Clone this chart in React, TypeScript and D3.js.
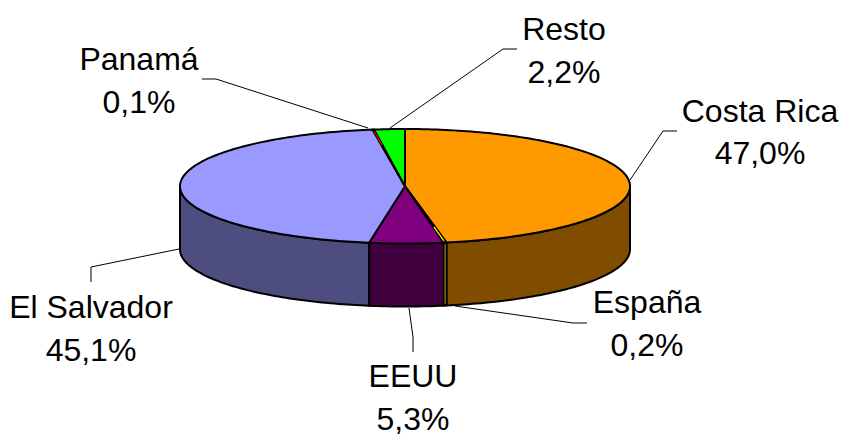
import * as d3 from 'd3'

const labels = ['Costa Rica', 'España', 'EEUU', 'El Salvador', 'Panamá', 'Resto']
const values = [47.0, 0.2, 5.3, 45.1, 0.1, 2.2]
const pctLabels = ['47,0%', '0,2%', '5,3%', '45,1%', '0,1%', '2,2%']
const topColors = ['#ff9900', '#ffff00', '#800080', '#9999ff', '#ff0000', '#00ff00']
const wallColors = ['#804d00', '#808000', '#400040', '#4d4d80', '#800000', '#008000']

// leader lines, in chart pixels
const leaders = [
  [[630, 180], [663, 131], [677, 131]],
  [[455, 306], [573, 323], [587, 323]],
  [[409, 308], [413, 337], [413, 352]],
  [[179, 249], [91, 267], [91, 282]],
  [[368, 128], [216, 79], [202, 79]],
  [[390, 128], [503, 49], [517, 49]],
]
const labelPos = [
  [760, 122, 164],
  [647, 313, 356],
  [413, 387, 430],
  [91, 318, 361],
  [139, 70, 113],
  [564, 40, 83],
]

const width = 841
const height = 437
const x = d3.scaleLinear().domain([-1, 1]).range([180, 630])
const y = d3.scaleLinear().domain([-1, 1]).range([129, 243.5])
const depth = 63
const outline = 2

const pie = d3.pie<number>().sort(null).startAngle(0).endAngle(2 * Math.PI)
const slices = pie(values)

const rimPoint = (a: number, dy = 0, r = 1): [number, number] => [
  x(r * Math.sin(a)),
  y(-r * Math.cos(a)) + dy,
]
const samples = (a0: number, a1: number) => {
  const n = Math.max(2, Math.ceil((a1 - a0) / 0.02))
  return d3.range(n + 1).map((i) => a0 + ((a1 - a0) * i) / n)
}
const line = d3.line()

const topPath = (a0: number, a1: number) =>
  line([[x(0), y(0)], ...samples(a0, a1).map((a) => rimPoint(a))]) + 'Z'

// only the front half of the rim (90deg to 270deg) shows a wall
const isFront = (a: number) => a > Math.PI / 2 && a < (3 * Math.PI) / 2
const wallPath = (a0: number, a1: number) => {
  const from = Math.max(a0, Math.PI / 2)
  const to = Math.min(a1, (3 * Math.PI) / 2)
  if (to <= from) return null
  const s = samples(from, to)
  return (
    line([
      ...s.map((a) => rimPoint(a)),
      ...s.slice().reverse().map((a) => rimPoint(a, depth)),
    ]) + 'Z'
  )
}

// the thinnest slices disappear under their outline, so redraw their colour on top
const thin = slices.filter((d) => d.value < 0.5)

export default function App() {
  return (
    <svg
      width={width}
      height={height}
      style={{ position: 'absolute', left: 0, top: 0 }}
      fontFamily="'Liberation Sans', Arial, sans-serif"
      fontSize={32}
      fill="#000"
    >
      {slices.map((d, i) => {
        const p = wallPath(d.startAngle, d.endAngle)
        return p ? <path key={i} d={p} fill={wallColors[i]} stroke="#000" strokeWidth={outline} strokeLinejoin="round" /> : null
      })}
      {slices.map((d, i) => (
        <path key={i} d={topPath(d.startAngle, d.endAngle)} fill={topColors[i]} stroke="#000" strokeWidth={outline} strokeLinejoin="round" />
      ))}
      {thin.map((d) => {
        const mid = (d.startAngle + d.endAngle) / 2
        return (
          <g key={d.index} fill="none" strokeWidth={1.2}>
            <path d={line([rimPoint(mid, 0, 0.72), rimPoint(mid, 0, 0.97)]) as string} stroke={topColors[d.index]} />
            {isFront(mid) && (
              <path d={line([rimPoint(mid, 2), rimPoint(mid, depth - 2)]) as string} stroke={wallColors[d.index]} />
            )}
          </g>
        )
      })}
      {leaders.map((l, i) => (
        <path key={i} d={line(l as [number, number][]) as string} fill="none" stroke="#000" strokeWidth={1} />
      ))}
      {labels.map((name, i) => (
        <g key={name} textAnchor="middle">
          <text x={labelPos[i][0]} y={labelPos[i][1]}>{name}</text>
          <text x={labelPos[i][0]} y={labelPos[i][2]}>{pctLabels[i]}</text>
        </g>
      ))}
    </svg>
  )
}
